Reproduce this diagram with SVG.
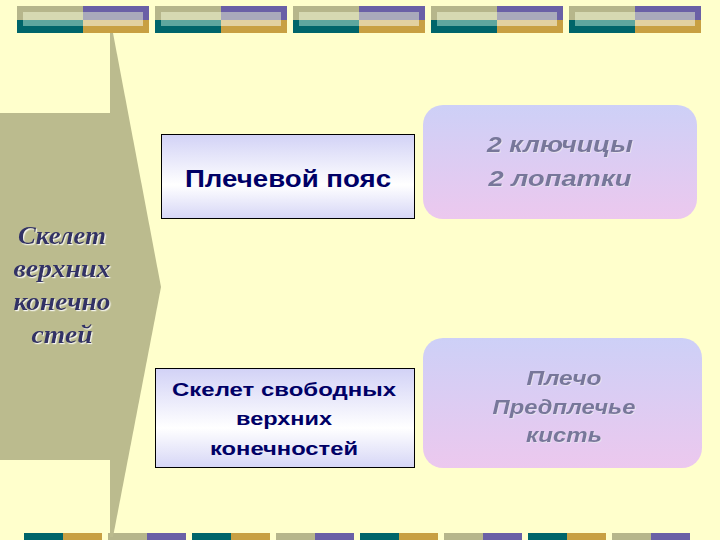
<svg xmlns="http://www.w3.org/2000/svg" width="720" height="540" viewBox="0 0 720 540">
<defs>
<linearGradient id="boxGrad" x1="0" y1="0" x2="0" y2="1">
<stop offset="0" stop-color="#d2d2f6"/>
<stop offset="0.6" stop-color="#ffffff"/>
<stop offset="1" stop-color="#d6d6f6"/>
</linearGradient>
<linearGradient id="roundGrad" x1="0" y1="0" x2="0" y2="1">
<stop offset="0" stop-color="#cdd0f7"/>
<stop offset="1" stop-color="#ecc8ee"/>
</linearGradient>
<filter id="shadowLight" x="-10%" y="-10%" width="120%" height="130%">
<feDropShadow dx="1.2" dy="1.2" stdDeviation="0.3" flood-color="#f4f4ec" flood-opacity="1"/>
</filter>
<filter id="shadowSoft" x="-10%" y="-10%" width="120%" height="130%">
<feDropShadow dx="1" dy="1" stdDeviation="0.3" flood-color="#e6e0f0" flood-opacity="1"/>
</filter>
<g id="topBlock">
<rect x="0" y="0" width="66" height="14" fill="#b6b68b"/>
<rect x="0" y="14" width="66" height="13" fill="#00656a"/>
<rect x="66" y="0" width="66" height="14" fill="#6a60a6"/>
<rect x="66" y="14" width="66" height="13" fill="#c8a042"/>
<rect x="6" y="6" width="60" height="8" fill="#d6d9b2"/>
<rect x="6" y="14" width="60" height="6" fill="#5ea69e"/>
<rect x="66" y="6" width="60" height="8" fill="#a9a9bb"/>
<rect x="66" y="14" width="60" height="6" fill="#e2d1a0"/>
</g>
<g id="pairA">
<rect x="0" y="0" width="39" height="7" fill="#00656a"/>
<rect x="39" y="0" width="39" height="7" fill="#c8a042"/>
</g>
<g id="pairB">
<rect x="0" y="0" width="39" height="7" fill="#b6b68b"/>
<rect x="39" y="0" width="39" height="7" fill="#6a60a6"/>
</g>
</defs>
<style>
.bg{fill:#ffffcc}
.shape{fill:#bbbb8e}
.box{fill:url(#boxGrad);stroke:#000000;stroke-width:1}
.rbox{fill:url(#roundGrad)}
.lt{font-family:"Liberation Serif","Times New Roman",serif;font-weight:bold;font-style:italic;font-size:25px;fill:#333366;text-anchor:middle;filter:url(#shadowLight)}
.bt{font-family:"Liberation Sans",Arial,sans-serif;font-weight:bold;fill:#000066;text-anchor:middle}
.rt{font-family:"Liberation Sans",Arial,sans-serif;font-weight:bold;font-style:italic;fill:#77779a;text-anchor:middle;filter:url(#shadowSoft)}
</style>
<rect class="bg" x="0" y="0" width="720" height="540"/>
<g id="decor">
<use href="#topBlock" x="17" y="6"/>
<use href="#topBlock" x="155" y="6"/>
<use href="#topBlock" x="293" y="6"/>
<use href="#topBlock" x="431" y="6"/>
<use href="#topBlock" x="569" y="6"/>
<use href="#pairA" x="24" y="533"/>
<use href="#pairB" x="108" y="533"/>
<use href="#pairA" x="192" y="533"/>
<use href="#pairB" x="276" y="533"/>
<use href="#pairA" x="360" y="533"/>
<use href="#pairB" x="444" y="533"/>
<use href="#pairA" x="528" y="533"/>
<use href="#pairB" x="612" y="533"/>
</g>
<g id="connectors"/>
<g id="upper-limb-skeleton">
<rect class="shape" x="0" y="113" width="111" height="347"/>
<polygon class="shape" points="110,33 113,33 161,287 113,537 110,537"/>
<text class="lt" x="62" y="244" textLength="88" lengthAdjust="spacingAndGlyphs">Скелет</text>
<text class="lt" x="62" y="277" textLength="97" lengthAdjust="spacingAndGlyphs">верхних</text>
<text class="lt" x="62" y="310" textLength="97" lengthAdjust="spacingAndGlyphs">конечно</text>
<text class="lt" x="62" y="343" textLength="61" lengthAdjust="spacingAndGlyphs">стей</text>
</g>
<g id="shoulder-girdle">
<rect class="box" x="161.5" y="134.5" width="253" height="84"/>
<text class="bt" x="288" y="187" font-size="23" textLength="206" lengthAdjust="spacingAndGlyphs">Плечевой пояс</text>
</g>
<g id="girdle-bones">
<rect class="rbox" x="423" y="105" width="274" height="114" rx="20" ry="20"/>
<text class="rt" x="560" y="152" font-size="22" textLength="146" lengthAdjust="spacingAndGlyphs">2 ключицы</text>
<text class="rt" x="560" y="186" font-size="22" textLength="143" lengthAdjust="spacingAndGlyphs">2 лопатки</text>
</g>
<g id="free-limb-skeleton">
<rect class="box" x="155.5" y="368.5" width="259" height="99"/>
<text class="bt" x="284" y="396" font-size="19" textLength="224" lengthAdjust="spacingAndGlyphs">Скелет свободных</text>
<text class="bt" x="284" y="425" font-size="19" textLength="96" lengthAdjust="spacingAndGlyphs">верхних</text>
<text class="bt" x="284" y="455" font-size="19" textLength="148" lengthAdjust="spacingAndGlyphs">конечностей</text>
</g>
<g id="free-limb-bones">
<rect class="rbox" x="423" y="338" width="279" height="130" rx="20" ry="20"/>
<text class="rt" x="564" y="385" font-size="20" textLength="75" lengthAdjust="spacingAndGlyphs">Плечо</text>
<text class="rt" x="564" y="414" font-size="20" textLength="143" lengthAdjust="spacingAndGlyphs">Предплечье</text>
<text class="rt" x="564" y="442" font-size="20" textLength="76" lengthAdjust="spacingAndGlyphs">кисть</text>
</g>
</svg>
